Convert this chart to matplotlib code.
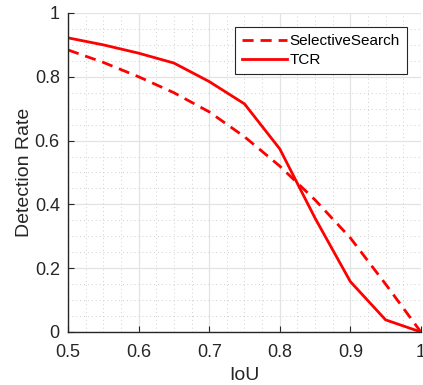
import numpy as np
import matplotlib.pyplot as plt
from matplotlib.ticker import MultipleLocator

iou = [0.5, 0.55, 0.6, 0.65, 0.7, 0.75, 0.8, 0.85, 0.9, 0.95, 1.0]
selective_search = [0.884, 0.845, 0.80, 0.75, 0.69, 0.612, 0.52, 0.414, 0.295, 0.15, 0.0]
tcr = [0.922, 0.90, 0.874, 0.843, 0.785, 0.715, 0.574, 0.357, 0.158, 0.038, 0.0]

plt.rcParams['font.family'] = ['Liberation Sans', 'DejaVu Sans']

fig = plt.figure(figsize=(4.23, 3.85), dpi=100)
ax = fig.add_axes([0.161, 0.1377, 0.834, 0.8286])

ax.plot(iou, selective_search, color='#ff0000', lw=2.0, ls=(0, (4, 2.5)), label='SelectiveSearch')
ax.plot(iou, tcr, color='#ff0000', lw=2.0, label='TCR')

ax.set_xlim(0.5, 1.0)
ax.set_ylim(0, 1)
ax.set_xticks([0.5, 0.6, 0.7, 0.8, 0.9, 1.0])
ax.set_xticklabels(['0.5', '0.6', '0.7', '0.8', '0.9', '1'])
ax.set_yticks([0, 0.2, 0.4, 0.6, 0.8, 1.0])
ax.set_yticklabels(['0', '0.2', '0.4', '0.6', '0.8', '1'])
ax.xaxis.set_minor_locator(MultipleLocator(0.025))
ax.yaxis.set_minor_locator(MultipleLocator(0.05))

ax.grid(True, which='major', color='#e3e3e3', lw=0.9)
ax.grid(True, which='minor', color='#cfcfcf', lw=0.7, ls=(0, (1, 3)))
ax.set_axisbelow(True)

for side in ['top', 'right']:
    ax.spines[side].set_visible(False)
for side in ['left', 'bottom']:
    ax.spines[side].set_color('#262626')
    ax.spines[side].set_linewidth(1.0)

ax.tick_params(which='major', direction='in', length=4, labelsize=13, colors='#262626')
ax.tick_params(axis='x', which='major', pad=9)
ax.tick_params(axis='y', which='major', pad=6)
ax.tick_params(which='minor', direction='in', length=0)

ax.set_xlabel('IoU', fontsize=14, color='#262626', labelpad=4)
ax.set_ylabel('Detection Rate', fontsize=14, color='#262626')
ax.yaxis.set_label_coords(-0.099, 0.5)

leg = ax.legend(loc='upper right', bbox_to_anchor=(0.960, 0.956), borderaxespad=0,
                fontsize=11, handlelength=2.9, fancybox=False, framealpha=1,
                borderpad=0.45, labelspacing=0.35, handletextpad=0.2)
leg.get_frame().set_edgecolor('#262626')
leg.get_frame().set_linewidth(0.8)

fig.savefig('out.png', dpi=100)
